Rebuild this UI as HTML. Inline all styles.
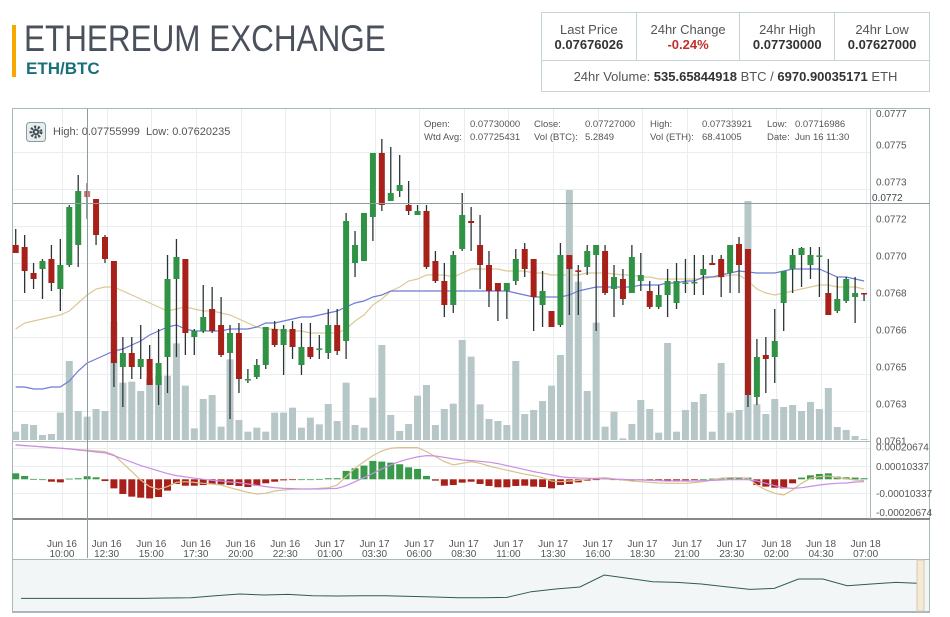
<!DOCTYPE html>
<html><head><meta charset="utf-8"><style>
body{margin:0;width:950px;height:617px;background:#fff;font-family:"Liberation Sans",sans-serif;overflow:hidden;position:relative}
.abs{position:absolute}
#title{left:24px;top:18px;font-size:37px;color:#4a505c;font-weight:normal;transform:scaleX(0.85);transform-origin:0 0;white-space:nowrap}
#pair{left:26px;top:59px;font-size:17px;color:#17707a;font-weight:bold}
#bar{left:12px;top:25px;width:4px;height:52px;background:#f5a800}
table{position:absolute;left:541px;top:12px;width:389px;height:80px;border-collapse:collapse}
td{border:1px solid #c6d3d6;text-align:center;font-size:13px;color:#555;padding:0;line-height:15px}
td b{color:#333}
</style></head><body>
<div id="bar" class="abs"></div>
<div id="title" class="abs">ETHEREUM EXCHANGE</div>
<div id="pair" class="abs">ETH/BTC</div>
<table>
<tr style="height:48px">
<td>Last Price<br><b>0.07676026</b></td>
<td>24hr Change<br><b style="color:#c0302a">-0.24%</b></td>
<td>24hr High<br><b>0.07730000</b></td>
<td>24hr Low<br><b>0.07627000</b></td></tr>
<tr><td colspan="4">24hr Volume: <b>535.65844918</b> BTC / <b>6970.90035171</b> ETH</td></tr>
</table>
<svg id="chart" class="abs" style="left:0;top:0" width="950" height="617"></svg>
<script>
// price values in units of 1e-5 BTC
const opens=[7703,7702,7689,7691,7696,7681,7693,7703,7730,7726,7707,7695,7642,7649,7642,7646,7633,7647,7686,7696,7657,7660,7671,7663,7649,7659,7635.5,7637,7643,7661,7653,7661,7643,7652,7651,7649,7663,7655,7694,7695,7717,7749,7725,7730,7723,7718,7720,7695,7685,7673,7701,7715,7703,7693,7684,7680,7685,7701,7696,7673,7670,7663,7698,7690.3,7692,7698,7700,7681,7686,7679,7685,7680,7672,7678,7674,7684,7684,7688,7694,7696,7689,7703.5,7701,7627,7648,7647,7674,7691,7698,7693,7697.6,7679,7670,7675,7677,7679];
const highs=[7711,7708,7694,7696,7703,7706,7723,7738,7734,7726,7708,7695,7657,7657,7663,7653,7661,7698,7706,7696,7661,7683,7682,7677,7663,7664,7641,7646,7662,7665,7663,7665,7664,7664,7658,7671,7671,7719,7710,7719,7749,7756,7752,7748,7735,7723,7723,7700,7694,7700,7729,7722,7718,7700,7684,7684,7701,7704,7696,7690,7670,7704,7698,7693,7703,7703,7703,7693,7691,7703,7699,7685,7683,7691,7694,7696,7698,7698,7698,7698,7703,7707,7701,7656,7657,7671,7690,7701,7702,7702,7702,7696,7687,7687,7687,7679];
const lows=[7699,7679,7681,7676,7680,7670,7692,7692,7716,7703,7694,7632,7622,7636,7636,7633,7623,7629,7647,7648,7648,7659,7659,7647,7616,7629,7634,7636,7641,7652,7638,7646,7638,7646,7646,7646,7648,7646,7687,7695,7705,7720,7725,7727,7718,7718,7691,7684,7667,7669,7700,7700,7681,7672,7665,7666,7683,7687,7660,7662,7662,7662,7668,7668,7688,7660,7678,7667,7673,7679,7680,7671,7671,7667,7671,7679,7678,7678,7693,7677,7679,7679,7622,7623,7629,7634,7660,7679,7682,7686,7677,7668,7669,7674,7664,7675];
const closes=[7699,7690,7686,7695,7684,7693,7722,7730,7727,7708,7696,7644,7649,7642,7646,7633,7644,7686,7697,7659,7660,7667,7660,7648,7659,7636,7636,7643,7662,7653,7661,7652,7652,7647,7651.3,7663,7650,7715,7703,7719,7749,7723,7729,7733,7720,7720,7692,7685,7673,7698,7718,7714,7693,7680,7680,7684,7696,7691,7677,7680,7662,7698,7691,7689.8,7700,7703,7679,7687,7676,7697,7688,7672,7678,7685,7685,7684.3,7684.5,7691,7693,7687,7703,7693,7628,7647,7646,7655,7690,7698,7701.5,7698,7697.8,7668,7676,7686,7679,7678.5];
const volumes=[25,48,45,15,18,82,237,87,70,93,87,355,172,175,147,185,193,193,290,163,35,123,135,40,242,60,25,37,25,82,82,97,37,67,47,108,57,172,45,37,127,285,75,27,48,133,165,45,93,109,300,250,107,63,57,45,237,78,90,117,163,255,750,475,147,352,40,85,5,48,120,93,22,291,25,90,114,138,25,231,82,90,717,107,78,123,99,105,87,114,93,156,39,30,12,3];
const maFast=[7661,7664,7665,7666,7667,7668,7670,7674,7678,7681,7682,7682,7680,7678,7676,7674,7672,7670,7671,7672,7671,7670,7670,7669,7668,7666,7664,7662,7661,7661,7660,7660,7660,7659,7659,7659,7659,7661,7665,7668,7673,7676,7680,7682,7685,7686,7688,7688,7688,7687,7689,7691,7691,7691,7691,7690,7690,7690,7689,7689,7688,7688,7688,7688,7689,7689,7689,7688.5,7688,7688,7687,7687,7686,7686,7686,7686,7686,7686,7687,7687,7688,7688,7685,7681,7679,7678,7679,7680,7681,7682,7683,7683,7682,7682,7682,7681];
const maSlow=[7632,7632,7631,7631,7632,7632,7635,7640,7644,7646,7648,7650,7651,7653,7655,7658,7660,7662,7663,7661,7660,7660,7660,7660,7661,7661,7661,7662,7664,7664,7665,7666,7667,7667,7668,7669,7670,7672,7674,7675,7677,7678,7680,7680,7680,7680,7680,7680,7680,7680,7680,7680,7680,7680,7680,7680,7679,7678,7677,7677,7677,7677,7678,7680,7681,7682,7682,7682,7682,7682,7683,7683,7683,7684,7684,7685,7685,7687,7687,7688,7689,7690,7689.5,7689,7689,7689,7690,7691,7691,7691,7691,7689,7687,7687,7686,7685];
// MACD values in units of 1e-6
const macdLine=[258,253,248,243,238,233,228,223,218,213,208,183,120,58,-5,-55,-75,-55,-23,-18,-23,-30,-35,-43,-63,-80,-98,-110,-105,-88,-80,-75,-73,-73,-68,-63,-43,20,83,133,178,213,233,238,238,238,208,170,133,108,120,133,120,100,83,68,53,38,28,13,-13,-18,-13,-8,0,8,13,3,-5,-13,-18,-23,-28,-30,-30,-30,-25,-18,-5,8,13,13,8,-43,-80,-105,-118,-80,-30,8,20,25,13,3,-5,-10];
const signalLine=[258,253,248,243,238,233,228,220,213,205,198,178,153,128,103,83,63,43,28,18,8,0,-8,-13,-20,-25,-35,-45,-55,-63,-68,-70,-73,-73,-73,-70,-68,-48,-18,13,45,78,108,133,153,168,178,175,165,153,145,140,135,128,118,103,88,73,58,45,33,20,13,10,8,5,3,0,0,-3,-5,-8,-10,-13,-13,-13,-13,-10,-8,-5,-3,-3,-3,-13,-30,-48,-63,-68,-63,-53,-43,-35,-30,-28,-20,-18];
const histValues=[45,25,3,0,-18,-23,5,8,23,15,-13,-68,-110,-130,-138,-143,-133,-85,-35,-48,-48,-43,-38,-38,-43,-50,-58,-48,-30,-18,-8,-3,0,0,3,8,8,63,83,103,138,133,125,113,90,78,25,-10,-48,-43,-25,-18,-35,-50,-60,-60,-50,-48,-55,-58,-68,-43,-35,-23,-10,-3,5,0,-8,-10,-5,-8,-10,-10,-8,-8,-5,0,5,8,13,15,13,-43,-55,-63,-68,-30,13,30,40,45,20,15,13,8];
const priceTicks=[7753,7734.5,7716,7697.5,7679,7660.5,7642,7623.5,7605];
const priceTickLabels=["0.0775","0.0773","0.0772","0.0770","0.0768","0.0766","0.0765","0.0763","0.0761"];
const macdTickLabels=["0.00020674","0.00010337","-0.00010337","-0.00020674"];
const timeDays=["Jun 16","Jun 16","Jun 16","Jun 16","Jun 16","Jun 16","Jun 17","Jun 17","Jun 17","Jun 17","Jun 17","Jun 17","Jun 17","Jun 17","Jun 17","Jun 17","Jun 18","Jun 18","Jun 18"];
const timeHours=["10:00","12:30","15:00","17:30","20:00","22:30","01:00","03:30","06:00","08:30","11:00","13:30","16:00","18:30","21:00","23:30","02:00","04:30","07:00"];
const navValues=[10,10,10,10,10,10,11,12,18,23,20,22,18,17,18,18,16,14,12,12,13,30,38,44,80,70,60,58,53,45,37,40,68,68,48,53,58,55];

const NS="http://www.w3.org/2000/svg",svg=document.getElementById('chart');
function mk(t,a,p){const e=document.createElementNS(NS,t);for(const k in a)e.setAttribute(k,a[k]);(p||svg).appendChild(e);return e;}
const X0=15.7,DX=8.93;
const xS=i=>X0+i*DX;
const yP=p=>433-(p-7609)*2;
const yV=v=>440-v/3;
const yM=v=>479.3-v/7.5;
const font='"Liberation Sans",sans-serif';

let e=mk('rect',{x:12.5,y:108.5,width:917,height:504,fill:'#fff',stroke:'#a9b9b9'});

const gGrid=mk('g',{stroke:'#e8eeee','stroke-width':1});

priceTicks.forEach(p=>{const y=Math.round(yP(p)+7)+0.5;mk('line',{x1:13,x2:870,y1:y,y2:y},gGrid);});
const LBL0=5.18;
timeHours.forEach((t,k)=>{const x=Math.round(xS(LBL0+5*k))+0.5;mk('line',{x1:x,x2:x,y1:109,y2:519},gGrid);});
[466,493].forEach(y=>mk('line',{x1:13,x2:870,y1:y+0.5,y2:y+0.5},gGrid));
const gVol=mk('g',{fill:'#b7c7c8'});

volumes.forEach((v,i)=>{const r=mk('rect',{x:xS(i)-3.5,y:yV(v),width:7,height:v/3},gVol);
});
function line(arr,yf,col,name){const d=arr.map((v,i)=>(i?'L':'M')+xS(i).toFixed(1)+','+yf(v).toFixed(1)).join('');
const p=mk('path',{d:d,fill:'none',stroke:col,'stroke-width':1.2});}
line(maFast,yP,'#dcc995','ma-fast-line');
line(maSlow,yP,'#6e7ad6','ma-slow-line');
const gC=mk('g',{});
opens.forEach((o,i)=>{const c=closes[i],up=c>=o,col=up?'#2f9245':'#a8201a',x=xS(i);
const g=mk('g',{},gC);
mk('line',{x1:x,x2:x,y1:yP(highs[i]),y2:yP(lows[i]),stroke:'#2b3535','stroke-width':1.3},g);
const t=yP(Math.max(o,c)),b=yP(Math.min(o,c));mk('rect',{x:x-3,y:t,width:6,height:Math.max(1.5,b-t),fill:col,opacity:i==8?0.6:1},g);});
const gH=mk('g',{});
histValues.forEach((h,i)=>{const y0=yM(0),y1=yM(h);const r=mk('rect',{x:xS(i)-3.5,y:Math.min(y0,y1),width:7,height:Math.max(0.8,Math.abs(y1-y0)),fill:h>=0?'#3a9a4c':'#a8201a'},gH);
});
line(macdLine,yM,'#d8c08a','macd-line');
line(signalLine,yM,'#c98ee6','signal-line');
e=mk('line',{x1:13,x2:870,y1:441.5,y2:441.5,stroke:'#b0bcbc'});
e=mk('rect',{x:13,y:518,width:917,height:2,fill:'#888'});
e=mk('line',{x1:870.5,x2:870.5,y1:109,y2:519,stroke:'#a9b9b9'});
const gPL=mk('g',{'font-family':font,'font-size':10,fill:'#555'});
e=mk('text',{x:876,y:117},gPL);e.textContent='0.0777';
priceTicks.forEach((p,k)=>{const t=mk('text',{x:876,y:yP(p)+3.5},gPL);t.textContent=priceTickLabels[k];
});
[450.5,470,497,516].forEach((y,k)=>{const t=mk('text',{x:876,y:y},gPL);t.textContent=macdTickLabels[k];
});
const gT=mk('g',{'font-family':font,'font-size':10,fill:'#555','text-anchor':'middle'});
timeHours.forEach((h,k)=>{const x=xS(LBL0+5*k);const t1=mk('text',{x:x,y:547},gT);t1.textContent=timeDays[k];

const t2=mk('text',{x:x,y:557},gT);t2.textContent=h;});
e=mk('line',{x1:87.5,x2:87.5,y1:109,y2:558,stroke:'#8d9c9c'});
e=mk('line',{x1:13,x2:930,y1:203.5,y2:203.5,stroke:'#8d9c9c'});
e=mk('text',{x:872,y:201,'font-family':font,'font-size':10,fill:'#444'});e.textContent='0.0772';
e=mk('rect',{x:12.5,y:559.5,width:917,height:52,fill:'#f3f6f6',stroke:'#a9b9b9'});
const nd=navValues.map((v,i)=>(i?'L':'M')+(21+i*24.3).toFixed(1)+','+(601.7-v/3).toFixed(1)).join('');
e=mk('path',{d:nd,fill:'none',stroke:'#2f5a5c','stroke-width':1});
e=mk('rect',{x:917,y:560,width:7,height:51,fill:'#f4ead8',stroke:'#d8c8a8'});
const info=[["Open:",424,124],["0.07730000",470,124],["Close:",534,124],["0.07727000",585,124],["High:",650,124],["0.07733921",702,124],["Low:",767,124],["0.07716986",795,124],
["Wtd Avg:",424,137],["0.07725431",470,137],["Vol (BTC):",534,137],["5.2849",585,137],["Vol (ETH):",650,137],["68.41005",702,137],["Date:",767,137],["Jun 16 11:30",795,137]];
info.forEach(a=>{const t=mk('text',{x:a[1],y:a[2]+3,'font-family':font,'font-size':9.5,fill:'#555'});t.textContent=a[0];
});
e=mk('text',{x:53,y:135,'font-family':font,'font-size':11,fill:'#555'});e.textContent='High: 0.07755999  Low: 0.07620235';
e.setAttribute('xml:space','preserve');e.style.whiteSpace='pre';
const gb=mk('g',{});
mk('rect',{x:26.5,y:122.5,width:19,height:19,rx:3,fill:'#e8eeee',stroke:'#8a9a9a'},gb);
mk('circle',{cx:36,cy:132,r:5,fill:'none',stroke:'#3d4f55','stroke-width':3,'stroke-dasharray':'2 1.6'},gb);
mk('circle',{cx:36,cy:132,r:3.2,fill:'#3d4f55'},gb);
mk('circle',{cx:36,cy:132,r:1.3,fill:'#e8eeee'},gb);
</script>
</body></html>
